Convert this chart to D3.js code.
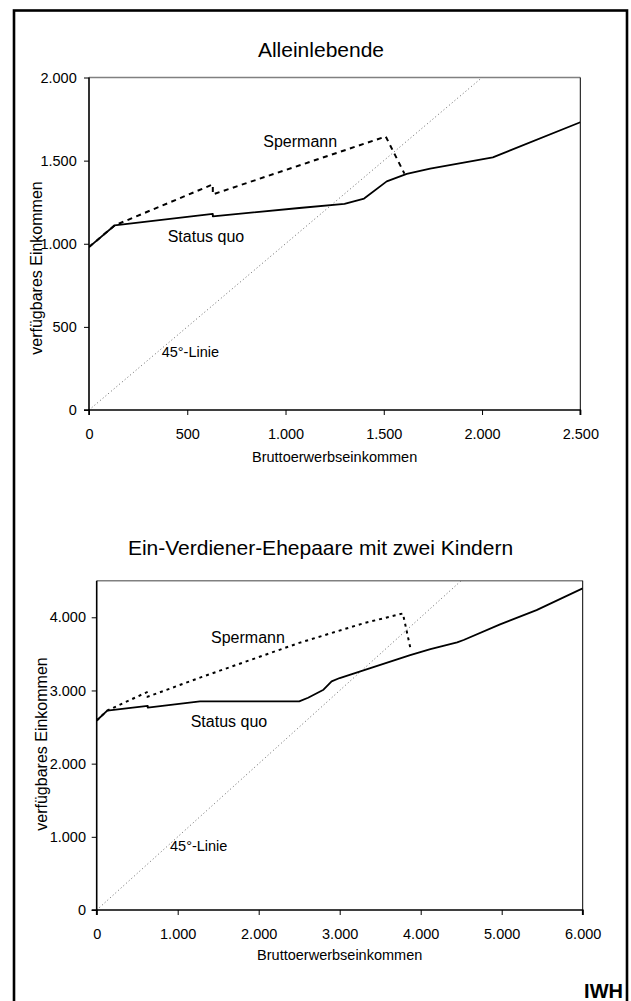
<!DOCTYPE html>
<html>
<head>
<meta charset="utf-8">
<script src="https://cdn.jsdelivr.net/npm/d3@7"></script>
<style>
  html, body { margin: 0; padding: 0; background: #fff; }
  svg { display: block; font-family: "Liberation Sans", Arial, sans-serif; }
</style>
</head>
<body>
<svg id="chart" width="631" height="1001"></svg>
<script>
// ---------- Data: Alleinlebende ----------
const titleA = "Alleinlebende";
const xTicksA = [0, 500, 1000, 1500, 2000, 2500];
const yTicksA = [0, 500, 1000, 1500, 2000];
const statusQuoXA = [0, 130, 630, 630, 1070, 1300, 1400, 1515, 1617, 1736, 2055, 2500];
const statusQuoYA = [980, 1110, 1180, 1165, 1215, 1240, 1272, 1375, 1420, 1452, 1520, 1731];
const spermannXA = [0, 130, 630, 630, 1510, 1605];
const spermannYA = [980, 1110, 1357, 1297, 1645, 1422];
const diagonalA = [0, 2000];

// ---------- Data: Ein-Verdiener-Ehepaare mit zwei Kindern ----------
const titleB = "Ein-Verdiener-Ehepaare mit zwei Kindern";
const xTicksB = [0, 1000, 2000, 3000, 4000, 5000, 6000];
const yTicksB = [0, 1000, 2000, 3000, 4000];
const statusQuoXB = [0, 130, 630, 630, 1275, 2500, 2610, 2800, 2900, 3000, 3870, 4120, 4450, 4530, 4980, 5430, 6000];
const statusQuoYB = [2590, 2725, 2790, 2766, 2850, 2850, 2900, 3010, 3125, 3170, 3484, 3565, 3657, 3690, 3903, 4098, 4395];
const spermannXB = [0, 130, 630, 630, 1300, 2500, 3300, 3780, 3870];
const spermannYB = [2590, 2725, 2982, 2915, 3185, 3650, 3920, 4052, 3592];
const diagonalB = [0, 4500];

const xLabel = "Bruttoerwerbseinkommen";
const yLabel = "verfügbares Einkommen";
const lineLabels = ["Spermann", "Status quo", "45°-Linie"];

// ---------- Setup ----------
const de = d3.formatLocale({decimal: ",", thousands: ".", grouping: [3], currency: ["", " €"]});
const fmt = de.format(",d");
const svg = d3.select("#chart");

// outer frame
svg.append("rect").attr("x", 14).attr("y", 10.5).attr("width", 613).attr("height", 1005)
  .attr("fill", "none").attr("stroke", "#000").attr("stroke-width", 2.6);

function drawPanel(cfg) {
  const x = d3.scaleLinear().domain(cfg.xDomain).range([cfg.left, cfg.right]);
  const y = d3.scaleLinear().domain(cfg.yDomain).range([cfg.bottom, cfg.top]);
  const g = svg.append("g");

  // title
  g.append("text").attr("x", cfg.titleX).attr("y", cfg.titleY)
    .attr("text-anchor", "middle").attr("font-size", 21).attr("fill", "#000").text(cfg.title);

  // plot border (top gray, right black)
  g.append("line").attr("x1", cfg.left).attr("x2", cfg.right).attr("y1", cfg.top).attr("y2", cfg.top)
    .attr("stroke", "#808080").attr("stroke-width", 1.5);
  g.append("line").attr("x1", cfg.right).attr("x2", cfg.right).attr("y1", cfg.top).attr("y2", cfg.bottom)
    .attr("stroke", "#000").attr("stroke-width", 1);

  // clip
  const clipId = "clip" + cfg.id;
  svg.append("clipPath").attr("id", clipId).append("rect")
    .attr("x", cfg.left).attr("y", cfg.top).attr("width", cfg.right - cfg.left).attr("height", cfg.bottom - cfg.top);
  const plot = g.append("g").attr("clip-path", `url(#${clipId})`);

  const line = d3.line().x(d => x(d[0])).y(d => y(d[1]));

  // 45° line
  plot.append("path").datum(cfg.diag.map(v => [v, v])).attr("d", line)
    .attr("fill", "none").attr("stroke", "#555").attr("stroke-width", 0.9).attr("stroke-dasharray", "1,2.6");

  // Spermann
  plot.append("path").datum(cfg.spX.map((v, i) => [v, cfg.spY[i]])).attr("d", line)
    .attr("fill", "none").attr("stroke", "#000").attr("stroke-width", 2).attr("stroke-dasharray", cfg.dash);

  // Status quo
  plot.append("path").datum(cfg.sqX.map((v, i) => [v, cfg.sqY[i]])).attr("d", line)
    .attr("fill", "none").attr("stroke", "#000").attr("stroke-width", 1.8).attr("stroke-linejoin", "round");

  // axes
  const xAxis = g.append("g").attr("transform", `translate(0,${cfg.bottom})`)
    .call(d3.axisBottom(x).tickValues(cfg.xTicks).tickFormat(fmt).tickSize(5).tickPadding(cfg.xPad));
  const yAxis = g.append("g").attr("transform", `translate(${cfg.left},0)`)
    .call(d3.axisLeft(y).tickValues(cfg.yTicks).tickFormat(fmt).tickSize(5).tickPadding(cfg.yPad));
  [xAxis, yAxis].forEach(a => {
    a.select(".domain").attr("stroke", "#000").attr("stroke-width", 1.6);
    a.selectAll(".tick line").attr("stroke", "#000").attr("stroke-width", 1);
    a.selectAll("text").attr("font-size", 14.5).attr("fill", "#000")
      .attr("font-family", '"Liberation Sans", Arial, sans-serif');
  });
  xAxis.select(".domain").attr("d", `M${cfg.left},5V0H${cfg.right}V5`);
  yAxis.select(".domain").attr("d", `M-5,${cfg.bottom}H0V${cfg.top}`);

  // axis titles
  g.append("text").attr("x", (cfg.left + cfg.right) / 2).attr("y", cfg.xTitleY)
    .attr("text-anchor", "middle").attr("font-size", 14.5).text(xLabel);
  g.append("text").attr("transform", `translate(${cfg.yTitleX},${cfg.yTitleY}) rotate(-90)`)
    .attr("text-anchor", "middle").attr("dy", "0.35em").attr("font-size", 16).text(yLabel);

  // in-plot labels
  cfg.labels.forEach((l, i) => {
    g.append("text").attr("x", l[0]).attr("y", l[1])
      .attr("font-size", i === 2 ? 14.5 : 16).attr("fill", "#000").text(lineLabels[i]);
  });
}

drawPanel({
  id: "A", title: titleA, titleX: 321, titleY: 57,
  left: 89, right: 580.3, top: 77.5, bottom: 410,
  xDomain: [0, 2500], yDomain: [0, 2000], xTicks: xTicksA, yTicks: yTicksA,
  sqX: statusQuoXA, sqY: statusQuoYA, spX: spermannXA, spY: spermannYA, diag: diagonalA,
  dash: "5,4.5", xPad: 13.3, yPad: 7.3, xTitleY: 461.5, yTitleX: 36.7, yTitleY: 268,
  labels: [[263.3, 146.5], [167.7, 241.5], [161.7, 356.5]]
});

drawPanel({
  id: "B", title: titleB, titleX: 320.5, titleY: 555,
  left: 96.7, right: 582.7, top: 580.7, bottom: 910,
  xDomain: [0, 6000], yDomain: [0, 4500], xTicks: xTicksB, yTicks: yTicksB,
  sqX: statusQuoXB, sqY: statusQuoYB, spX: spermannXB, spY: spermannYB, diag: diagonalB,
  dash: "3,4", xPad: 14, yPad: 5.7, xTitleY: 959.5, yTitleX: 41.7, yTitleY: 744,
  labels: [[211, 642.7], [190.7, 726.5], [170, 850.5]]
});

// IWH
svg.append("text").attr("x", 623).attr("y", 998).attr("text-anchor", "end")
  .attr("font-size", 20).attr("font-weight", "bold").text("IWH");
</script>
</body>
</html>
